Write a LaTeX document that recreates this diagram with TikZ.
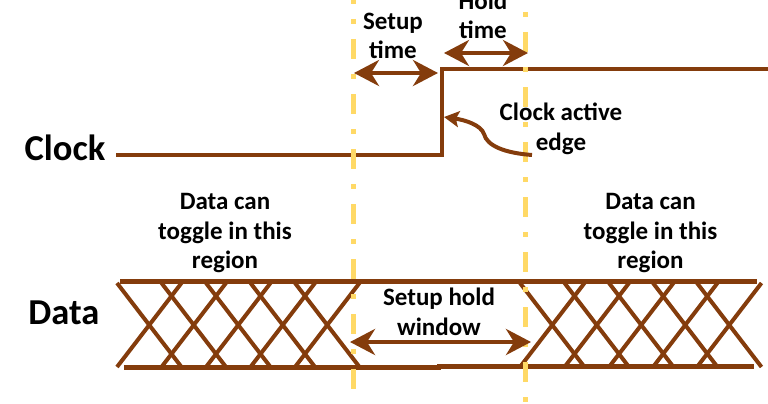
\documentclass[tikz,border=0pt]{standalone}
\usepackage{fontspec}
\setmainfont{Carlito}
\usetikzlibrary{arrows.meta}
\definecolor{wirebrown}{HTML}{843C0C}
\definecolor{edgeyellow}{HTML}{FFD966}
\tikzset{
  wire/.style={line width=4.5pt, wirebrown},
  cross/.style={line width=4pt, wirebrown},
  edgeline/.style={line width=5pt, edgeyellow, dash pattern=on 20pt off 15pt on 5pt off 15pt},
  span/.style={line width=4.5pt, wirebrown, {Stealth[length=25pt,width=26pt,inset=8pt]}-{Stealth[length=25pt,width=26pt,inset=8pt]}},
  note/.style={font=\fontsize{25}{29.5}\selectfont\bfseries, align=center, text=black},
  signame/.style={font=\fontsize{36.5}{40}\selectfont\bfseries, text=black}
}
\begin{document}
\begin{tikzpicture}[x=1pt, y=-1pt]
\useasboundingbox (0,0) rectangle (768,404);
% Clock waveform
    \draw[wire] (116,155) -- (442,155) -- (442,69) -- (768,69);
% Data rails
    \draw[wire] (120,281.5) -- (757,281.5);
    \draw[wire] (124,367.5) -- (441,367.5);
    \draw[wire] (437,366.5) -- (754,366.5);
% Data crossings
    \foreach \xs in {117,161.5,206,250.5,295,520,564.5,609,653,697} {
        \draw[cross] (\xs,283) -- ({\xs+64.5},367);
        \draw[cross] (\xs,367) -- ({\xs+64.5},283);
    }
% Edge lines
    \draw[edgeline, dash phase=16pt] (353,0) -- (353,389);
    \draw[edgeline, dash phase=23pt] (525,0) -- (525,404);
% Spans
    \coordinate (setupL) at (354,73);
    \coordinate (setupR) at (438,73);
    \coordinate (holdL) at (444,53);
    \coordinate (holdR) at (528,53);
    \coordinate (windowL) at (350,342);
    \coordinate (windowR) at (531,342);
    \draw[span] (setupL) -- (setupR);
    \draw[span] (holdL) -- (holdR);
    \draw[span] (windowL) -- (windowR);
% Active edge pointer
    \coordinate (edgeNote) at (532,155);
    \coordinate (edgeTip) at (444,117);
    \draw[line width=4pt, wirebrown, -{Stealth[length=15pt,width=16pt,inset=3pt]}]
        (edgeNote) .. controls (505,153) and (487,146) .. (484,134)
        .. controls (481,125) and (465,120) .. (edgeTip);
% Labels
    \node[signame] (clockname) at (65,148) {Clock};
    \node[signame] (dataname) at (64,313) {Data};
    \node[note] (setuptext) at (393,36) {Setup\\time};
    \node[note] (holdtext) at (483,15.5) {Hold\\time};
    \node[note] (edgetext) at (561,129) {Clock active\\edge};
    \node[note] (lefttext) at (225,233.5) {Data can\\toggle in this\\region};
    \node[note] (righttext) at (650.5,233.5) {Data can\\toggle in this\\region};
    \node[note] (windowtext) at (439,312) {Setup hold\\window};
\end{tikzpicture}
\end{document}
